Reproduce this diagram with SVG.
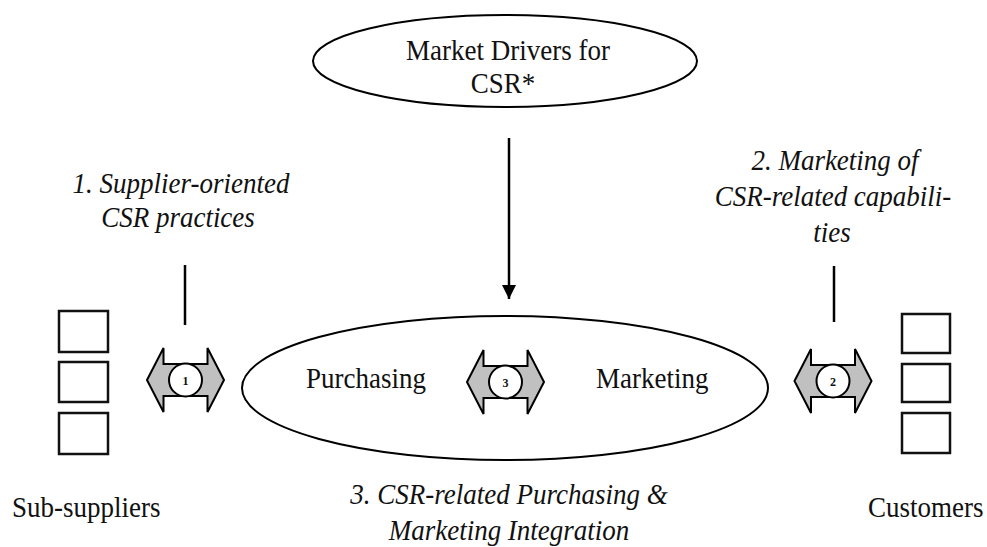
<svg xmlns="http://www.w3.org/2000/svg" width="987" height="547" viewBox="0 0 987 547">
<defs>
<style>
.t{font-family:"Liberation Serif","Times New Roman",serif;font-size:27px;fill:#111;}
.i{font-style:italic;}
.m{text-anchor:middle;}
.n{font-family:"Liberation Serif","Times New Roman",serif;font-size:12px;font-weight:bold;fill:#111;text-anchor:middle;}
.sh{fill:none;stroke:#000;stroke-width:2;}
.bx{fill:#fff;stroke:#111;stroke-width:2.5;}
.da{fill:#c0c0c0;stroke:#000;stroke-width:2;stroke-linejoin:miter;}
.ln{stroke:#000;stroke-width:2.5;fill:none;}
</style>
<marker id="ah" viewBox="0 0 10 10" refX="10" refY="5" markerWidth="14" markerHeight="14" markerUnits="userSpaceOnUse" orient="auto">
<path d="M0,0 L10,5 L0,10 Z" fill="#000"/>
</marker>
<path id="dbl" d="M-38.5,0 L-22,-32 L-22,-16 L22,-16 L22,-32 L38.5,0 L22,32 L22,16 L-22,16 L-22,32 Z"/>
</defs>
<rect width="987" height="547" fill="#fff"/>

<g id="drivers">
<ellipse class="sh" cx="505" cy="61" rx="192" ry="46"/>
<text class="t m" transform="translate(508 60) scale(1 1.13)">Market Drivers for</text>
<text class="t m" transform="translate(503 93) scale(1 1.13)">CSR*</text>
</g>

<g id="core">
<ellipse class="sh" cx="505" cy="388" rx="263" ry="72"/>
<text class="t" transform="translate(306 388) scale(1 1.13)">Purchasing</text>
<text class="t" transform="translate(596 388) scale(1 1.13)">Marketing</text>
</g>

<g id="subsuppliers">
<rect class="bx" x="59" y="311" width="49" height="41"/>
<rect class="bx" x="59" y="362" width="49" height="40"/>
<rect class="bx" x="59" y="413" width="49" height="41"/>
<text class="t" transform="translate(12 517) scale(1 1.13)">Sub-suppliers</text>
</g>

<g id="customers">
<rect class="bx" x="902" y="314" width="48" height="39"/>
<rect class="bx" x="902" y="364" width="48" height="38"/>
<rect class="bx" x="902" y="413" width="48" height="40"/>
<text class="t" transform="translate(868 517) scale(1 1.13)">Customers</text>
</g>

<g id="label1">
<text class="t i m" transform="translate(181 193) scale(1 1.13)">1. Supplier-oriented</text>
<text class="t i m" transform="translate(178 227) scale(1 1.13)">CSR practices</text>
</g>

<g id="label2">
<text class="t i m" transform="translate(835 170) scale(1 1.13)">2. Marketing of</text>
<text class="t i m" transform="translate(833 206) scale(1 1.13)">CSR-related capabili-</text>
<text class="t i m" transform="translate(832 242) scale(1 1.13)">ties</text>
</g>

<g id="label3">
<text class="t i m" transform="translate(509 504) scale(1 1.13)">3. CSR-related Purchasing &amp;</text>
<text class="t i m" transform="translate(509 540) scale(1 1.13)">Marketing Integration</text>
</g>

<g id="connectors">
<line class="ln" x1="509" y1="138" x2="509" y2="299" marker-end="url(#ah)"/>
<line class="ln" x1="185" y1="265" x2="185" y2="325"/>
<line class="ln" x1="834" y1="266" x2="834" y2="322"/>
<g id="link1" transform="translate(185.5,380)">
<use href="#dbl" class="da"/>
<circle r="16.5" fill="#fff" stroke="#000" stroke-width="2"/>
<text class="n" y="4.5">1</text>
</g>
<g id="link3" transform="translate(505.5,382)">
<use href="#dbl" class="da"/>
<circle r="16.5" fill="#fff" stroke="#000" stroke-width="2"/>
<text class="n" y="4.5">3</text>
</g>
<g id="link2" transform="translate(833,381)">
<use href="#dbl" class="da"/>
<circle r="16.5" fill="#fff" stroke="#000" stroke-width="2"/>
<text class="n" y="4.5">2</text>
</g>
</g>
</svg>
